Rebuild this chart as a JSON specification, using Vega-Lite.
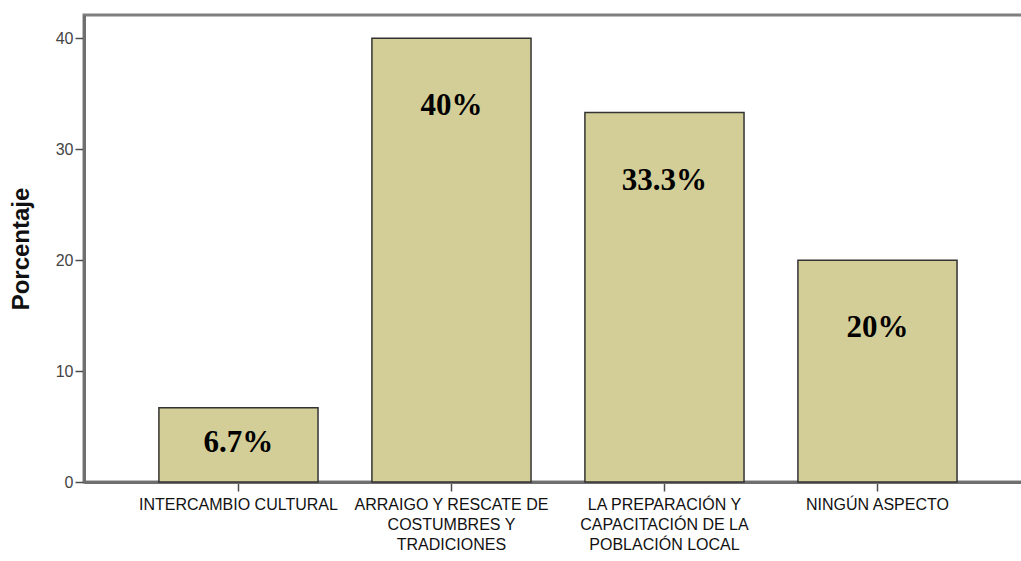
{
  "$schema": "https://vega.github.io/schema/vega-lite/v6.json",
  "autosize": "none",
  "padding": {"left": 84, "top": 15, "right": 0, "bottom": 79},
  "width": 940,
  "height": 467,
  "background": "white",
  "config": {
    "view": {"stroke": "#7f7f7f", "strokeWidth": 3},
    "axis": {"grid": false, "domainColor": "#6f6f6f", "domainWidth": 3, "tickColor": "#4d4d4d", "tickWidth": 1.5}
  },
  "data": {
    "values": [
      {"aspecto": "INTERCAMBIO CULTURAL", "pct": 6.7, "etiqueta": "6.7%"},
      {"aspecto": "ARRAIGO Y RESCATE DE COSTUMBRES Y TRADICIONES", "pct": 40, "etiqueta": "40%"},
      {"aspecto": "LA PREPARACIÓN Y CAPACITACIÓN DE LA POBLACIÓN LOCAL", "pct": 33.3, "etiqueta": "33.3%"},
      {"aspecto": "NINGÚN ASPECTO", "pct": 20, "etiqueta": "20%"}
    ]
  },
  "encoding": {
    "x": {
      "field": "aspecto",
      "type": "nominal",
      "sort": null,
      "scale": {"paddingInner": 0.253, "paddingOuter": 0.333, "align": 0.528},
      "axis": {
        "title": null,
        "labelAngle": 0,
        "labelFont": "Liberation Sans, Arial, sans-serif",
        "labelFontSize": 16,
        "labelColor": "#111111",
        "labelLineHeight": 20,
        "labelPadding": 5,
        "tickSize": 9,
        "labelLimit": 300,
        "labelExpr": "datum.value == 'INTERCAMBIO CULTURAL' ? 'INTERCAMBIO CULTURAL' : datum.value == 'NINGÚN ASPECTO' ? 'NINGÚN ASPECTO' : datum.value == 'ARRAIGO Y RESCATE DE COSTUMBRES Y TRADICIONES' ? ['ARRAIGO Y RESCATE DE', 'COSTUMBRES Y', 'TRADICIONES'] : ['LA PREPARACIÓN Y', 'CAPACITACIÓN DE LA', 'POBLACIÓN LOCAL']"
      }
    }
  },
  "layer": [
    {
      "mark": {"type": "bar", "color": "#d3ce97", "stroke": "#333333", "strokeWidth": 1.5},
      "encoding": {
        "y": {
          "field": "pct",
          "type": "quantitative",
          "scale": {"domain": [0, 42.1], "nice": false},
          "axis": {
            "title": "Porcentaje",
            "titleFont": "Liberation Sans, Arial, sans-serif",
            "titleFontSize": 24,
            "titleFontWeight": "bold",
            "titleColor": "#111111",
            "titlePadding": 22,
            "values": [0, 10, 20, 30, 40],
            "labelFont": "Liberation Sans, Arial, sans-serif",
            "labelFontSize": 16,
            "labelColor": "#444444",
            "tickSize": 9,
            "labelPadding": 2
          }
        }
      }
    },
    {
      "transform": [{"filter": "datum.pct > 10"}],
      "mark": {"type": "text", "font": "Liberation Serif, Times New Roman, serif", "fontSize": 31, "fontWeight": "bold", "color": "#000000", "baseline": "middle", "dy": 68},
      "encoding": {
        "y": {"field": "pct", "type": "quantitative"},
        "text": {"field": "etiqueta"}
      }
    },
    {
      "transform": [{"filter": "datum.pct <= 10"}],
      "mark": {"type": "text", "font": "Liberation Serif, Times New Roman, serif", "fontSize": 31, "fontWeight": "bold", "color": "#000000", "baseline": "middle", "dy": -39},
      "encoding": {
        "y": {"datum": 0, "type": "quantitative"},
        "text": {"field": "etiqueta"}
      }
    }
  ]
}
